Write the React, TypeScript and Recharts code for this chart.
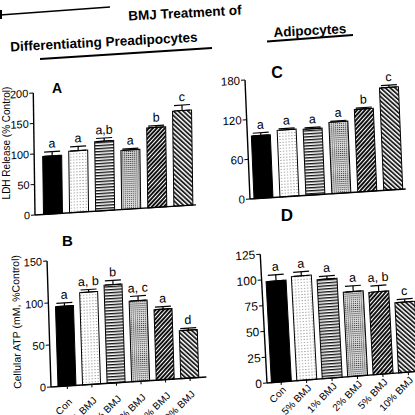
import React from "react";
import { BarChart, Bar, XAxis, YAxis, ErrorBar, LabelList, Cell } from "recharts";

const CATEGORIES = ["Con", "5% BMJ", "1% BMJ", "2% BMJ", "5% BMJ", "10% BMJ"];

// A: LDH release, differentiating preadipocytes
const LDH_PRE = [95, 101, 114, 97, 131, 156];
const LDH_PRE_ERR = [7, 7, 5, 2, 3, 9];
const LDH_PRE_SIG = ["a", "a", "a,b", "a", "b", "c"];
const LDH_PRE_TICKS = [0, 50, 100, 150, 200];

// B: cellular ATP, differentiating preadipocytes
const ATP_PRE = [95, 110, 117, 96, 84, 57];
const ATP_PRE_ERR = [4, 3, 5, 5.5, 3, 2.5];
const ATP_PRE_SIG = ["a", "a, b", "b", "a, c", "a", "d"];
const ATP_PRE_TICKS = [0, 50, 100, 150];

// C: LDH release, adipocytes
const LDH_ADI = [95, 101, 100, 108, 125, 155];
const LDH_ADI_ERR = [4, 2, 2, 1.5, 2, 3.5];
const LDH_ADI_SIG = ["a", "a", "a", "a", "b", "c"];
const LDH_ADI_TICKS = [0, 60, 120, 180];

// D: cellular ATP, adipocytes
const ATP_ADI = [98, 101, 96, 82, 80, 68];
const ATP_ADI_ERR = [6, 4, 3, 5.5, 6, 3];
const ATP_ADI_SIG = ["a", "a", "a", "a", "a, b", "c"];
const ATP_ADI_TICKS = [0, 25, 50, 75, 100, 125];

const FONT = "'Liberation Sans', Arial, Helvetica, sans-serif";

function Patterns({ id }: { id: string }) {
  return (
    <defs>
      <pattern id={`${id}-p1`} width="3" height="3" patternUnits="userSpaceOnUse">
        <rect width="3" height="3" fill="#fff" />
        <rect x="1" y="1" width="1" height="1" fill="#888" />
      </pattern>
      <pattern id={`${id}-p2`} width="4" height="3" patternUnits="userSpaceOnUse">
        <rect width="4" height="3" fill="#fff" />
        <rect width="4" height="1.4" fill="#111" />
      </pattern>
      <pattern id={`${id}-p3`} width="2" height="2" patternUnits="userSpaceOnUse">
        <rect width="2" height="2" fill="#d8d8d8" />
        <rect width="1" height="1" fill="#333" />
      </pattern>
      <pattern id={`${id}-p4`} width="3" height="3" patternUnits="userSpaceOnUse" patternTransform="rotate(45)">
        <rect width="3" height="3" fill="#fff" />
        <rect width="2" height="3" fill="#111" />
      </pattern>
      <pattern id={`${id}-p5`} width="3.2" height="3.2" patternUnits="userSpaceOnUse" patternTransform="rotate(-45)">
        <rect width="3.2" height="3.2" fill="#fff" />
        <rect width="1.8" height="3.2" fill="#222" />
      </pattern>
    </defs>
  );
}

const makeSlantTick = (drop: number) => (props: any) => {
  const { x, y, payload } = props;
  const px = Number(x) + 5;
  const py = Number(y) + drop;
  return (
    <text
      x={px}
      y={py}
      transform={`rotate(-42 ${px} ${py})`}
      textAnchor="end"
      fontSize={10}
      fontFamily={FONT}
      fill="#000"
    >
      {payload.value}
    </text>
  );
};

interface PanelProps {
  id: string;
  values: number[];
  errs: number[];
  sigs: string[];
  ticks: number[];
  ox: number;
  oy: number;
  yw: number;
  mt: number;
  plotH: number;
  xh: number;
  band: number;
  padL: number;
  padR: number;
  barSize: number;
  rot: number;
  skew: number;
  tickFont: number;
  showX: boolean;
  labelDrop?: number;
}

function Panel(p: PanelProps) {
  const data = CATEGORIES.map((name, i) => ({
    name,
    value: p.values[i],
    err: [0, p.errs[i]],
    sig: p.sigs[i],
  }));
  const plotW = p.padL + p.band * 6 + p.padR;
  const mr = 10;
  const W = p.yw + plotW + mr;
  const H = p.mt + p.plotH + p.xh;
  const fills = ["#000", `url(#${p.id}-p1)`, `url(#${p.id}-p2)`, `url(#${p.id}-p3)`, `url(#${p.id}-p4)`, `url(#${p.id}-p5)`];
  const max = p.ticks[p.ticks.length - 1];
  const SlantTick = makeSlantTick(p.labelDrop ?? 6);

  const sigLabel = (lp: any) => {
    const { x, y, width, height, index, value } = lp;
    const ppu = Number(height) / p.values[index];
    const top = Number(y) - p.errs[index] * ppu;
    return (
      <text
        x={Number(x) + Number(width) / 2}
        y={top - 4}
        textAnchor="middle"
        fontSize={12.5}
        fontFamily={FONT}
        fill="#000"
      >
        {value}
      </text>
    );
  };

  return (
    <div
      style={{
        position: "absolute",
        left: p.ox - p.yw,
        top: p.oy - (p.mt + p.plotH),
        width: W,
        height: H,
        transformOrigin: `${p.yw}px ${p.mt + p.plotH}px`,
        transform: `rotate(${-p.rot}deg) skewY(${-p.skew}deg)`,
      }}
    >
      <BarChart
        width={W}
        height={H}
        data={data}
        margin={{ top: p.mt, right: mr, bottom: 0, left: 0 }}
        style={{ overflow: "visible" }}
      >
        <Patterns id={p.id} />
        <XAxis
          dataKey="name"
          height={p.xh}
          interval={0}
          padding={{ left: p.padL, right: p.padR }}
          axisLine={{ stroke: "#000", strokeWidth: 1.4 }}
          tickLine={p.showX ? { stroke: "#000" } : false}
          tickSize={3}
          tickMargin={0}
          tick={p.showX ? <SlantTick /> : false}
        />
        <YAxis
          width={p.yw}
          domain={[0, max]}
          ticks={p.ticks}
          interval={0}
          axisLine={{ stroke: "#000", strokeWidth: 1.4 }}
          tickLine={{ stroke: "#000" }}
          tickSize={4}
          tickMargin={1}
          tick={{ fontSize: p.tickFont, fill: "#000", fontFamily: FONT }}
        />
        <Bar dataKey="value" barSize={p.barSize} stroke="#000" strokeWidth={1} isAnimationActive={false}>
          {data.map((d, i) => (
            <Cell key={i} fill={fills[i]} />
          ))}
          <ErrorBar dataKey="err" direction="y" width={8} stroke="#000" strokeWidth={1.2} isAnimationActive={false} />
          <LabelList dataKey="sig" content={sigLabel} />
        </Bar>
      </BarChart>
    </div>
  );
}

export default function App() {
  const txt = (s: React.CSSProperties): React.CSSProperties => ({
    position: "absolute",
    fontFamily: FONT,
    color: "#000",
    whiteSpace: "nowrap",
    transform: "translate(-50%, -50%)",
    ...s,
  });
  return (
    <div
      style={{
        position: "absolute",
        left: 0,
        top: 0,
        width: 415,
        height: 415,
        overflow: "hidden",
        background: "#fff",
      }}
    >
      <svg width={415} height={415} style={{ position: "absolute", left: 0, top: 0 }}>
        <line x1={0} y1={15} x2={110} y2={7} stroke="#000" strokeWidth={1.6} />
        <line x1={1} y1={10} x2={1} y2={19} stroke="#000" strokeWidth={2} />
        <line x1={40} y1={59} x2={212} y2={48} stroke="#000" strokeWidth={2} />
        <line x1={267} y1={41.5} x2={353} y2={35} stroke="#000" strokeWidth={2} />
        <text x={185} y={14} textAnchor="middle" dominantBaseline="middle" fontSize={13.5} fontWeight="bold" fontFamily={FONT} transform="rotate(-3 185 14)">
          BMJ Treatment of
        </text>
        <text x={104} y={43} textAnchor="middle" dominantBaseline="middle" fontSize={13.5} fontWeight="bold" fontFamily={FONT} transform="rotate(-3 104 43)">
          Differentiating Preadipocytes
        </text>
        <text x={310} y={31.5} textAnchor="middle" dominantBaseline="middle" fontSize={13.5} fontWeight="bold" fontFamily={FONT} transform="rotate(-3 310 31.5)">
          Adipocytes
        </text>
      </svg>

      <Panel
        id="a" values={LDH_PRE} errs={LDH_PRE_ERR} sigs={LDH_PRE_SIG} ticks={LDH_PRE_TICKS}
        ox={35} oy={215} yw={40} mt={16} plotH={122} xh={4}
        band={26.1} padL={4.5} padR={0} barSize={19} rot={0.8} skew={2.8} tickFont={11} showX={false}
      />
      <Panel
        id="b" values={ATP_PRE} errs={ATP_PRE_ERR} sigs={ATP_PRE_SIG} ticks={ATP_PRE_TICKS}
        ox={50.7} oy={386.7} yw={50} mt={22} plotH={126} xh={45}
        band={24.6} padL={4} padR={4} barSize={18} rot={1.8} skew={1.9} tickFont={11} showX={true}
        labelDrop={14}
      />
      <Panel
        id="c" values={LDH_ADI} errs={LDH_ADI_ERR} sigs={LDH_ADI_SIG} ticks={LDH_ADI_TICKS}
        ox={249.5} oy={199.3} yw={38} mt={15} plotH={119} xh={4}
        band={26} padL={0} padR={0} barSize={19} rot={2.4} skew={1.3} tickFont={11.5} showX={false}
      />
      <Panel
        id="d" values={ATP_ADI} errs={ATP_ADI_ERR} sigs={ATP_ADI_SIG} ticks={ATP_ADI_TICKS}
        ox={266.7} oy={383.3} yw={52} mt={12} plotH={129} xh={45}
        band={25.5} padL={1.4} padR={0} barSize={20} rot={3} skew={1.4} tickFont={12} showX={true}
        labelDrop={6}
      />

      <div style={txt({ left: 6, top: 142.5, fontSize: 10, transform: "translate(-50%, -50%) rotate(-90deg)" })}>
        LDH Release (% Control)
      </div>
      <div style={txt({ left: 16, top: 322, fontSize: 10.5, transform: "translate(-50%, -50%) rotate(-91deg)" })}>
        Cellular ATP (mM, %Control)
      </div>
      <div style={txt({ left: 57, top: 88, fontSize: 14, fontWeight: "bold" })}>A</div>
      <div style={txt({ left: 67.5, top: 240, fontSize: 15, fontWeight: "bold" })}>B</div>
      <div style={txt({ left: 277, top: 73, fontSize: 16, fontWeight: "bold" })}>C</div>
      <div style={txt({ left: 287, top: 216, fontSize: 17, fontWeight: "bold" })}>D</div>
    </div>
  );
}
